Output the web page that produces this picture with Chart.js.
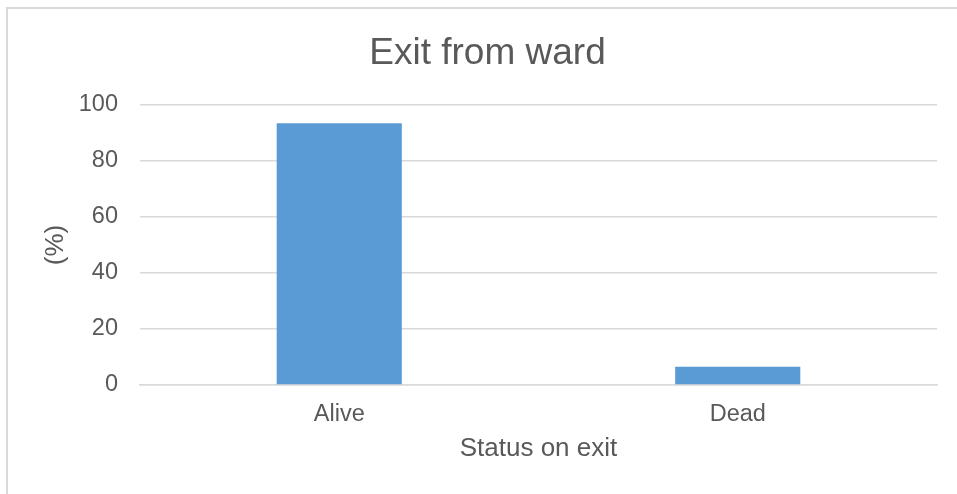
<!DOCTYPE html>
<html>
<head>
<meta charset="utf-8">
<script src="https://cdn.jsdelivr.net/npm/chart.js@4"></script>
<style>
    html, body { margin: 0; padding: 0; background: #fff; overflow: hidden; }
    .moldura {
        position: absolute; left: 6px; top: 7px; width: 960px; height: 520px;
        border: 2px solid #d9d9d9; box-sizing: border-box;
    }
    .grafico-container { position: absolute; left: 0; top: 0; width: 957px; height: 494px; }
</style>
</head>
<body>
<div class="moldura"></div>
<div class="grafico-container"><canvas id="graficoSaida" width="957" height="494"></canvas></div>
<script>
// Dados do gráfico
const categorias = ['Alive', 'Dead'];
const percentuais = [93.5, 6.5];
const ticksY = [0, 20, 40, 60, 80, 100];

const tituloGrafico = 'Exit from ward';
const tituloEixoX = 'Status on exit';
const tituloEixoY = '(%)';

const corTexto = '#595959';
const corGrade = '#d9d9d9';

Chart.defaults.font.family = '"Liberation Sans", Arial, sans-serif';
Chart.defaults.color = corTexto;

const ctx = document.getElementById('graficoSaida').getContext('2d');
new Chart(ctx, {
    type: 'bar',
    data: {
        labels: categorias,
        datasets: [{
            data: percentuais,
            backgroundColor: '#5b9bd5',
            borderWidth: 0,
            categoryPercentage: 1,
            barPercentage: 0.314
        }]
    },
    options: {
        responsive: false,
        animation: false,
        // padding à esquerda desloca o título para o centro como no original
        layout: { padding: { left: 38, right: 20, top: 0, bottom: 30 } },
        plugins: {
            legend: { display: false },
            tooltip: { enabled: false },
            title: {
                display: true,
                text: tituloGrafico,
                color: corTexto,
                font: { size: 37, weight: 'normal' },
                padding: { top: 32, bottom: 28.6 }
            }
        },
        scales: {
            x: {
                grid: { display: false, drawTicks: false },
                border: { display: true, color: corGrade, width: 1.5 },
                ticks: { padding: 15, font: { size: 23.5 }, color: corTexto },
                title: {
                    display: true, text: tituloEixoX, color: corTexto,
                    font: { size: 26 }, padding: { top: 0, bottom: 0 }
                },
                afterFit: (escala) => { escala.height = 79; }
            },
            y: {
                min: 0,
                max: 100,
                afterBuildTicks: (escala) => { escala.ticks = ticksY.map(v => ({ value: v })); },
                grid: { color: corGrade, lineWidth: 1.5, drawTicks: false },
                border: { display: false },
                ticks: { padding: 22, font: { size: 23.5 }, color: corTexto },
                title: {
                    display: true, text: tituloEixoY, color: corTexto,
                    font: { size: 26 }, padding: { top: 2, bottom: 0 }
                },
                afterFit: (escala) => { escala.width = 102; }
            }
        }
    }
});
</script>
</body>
</html>
